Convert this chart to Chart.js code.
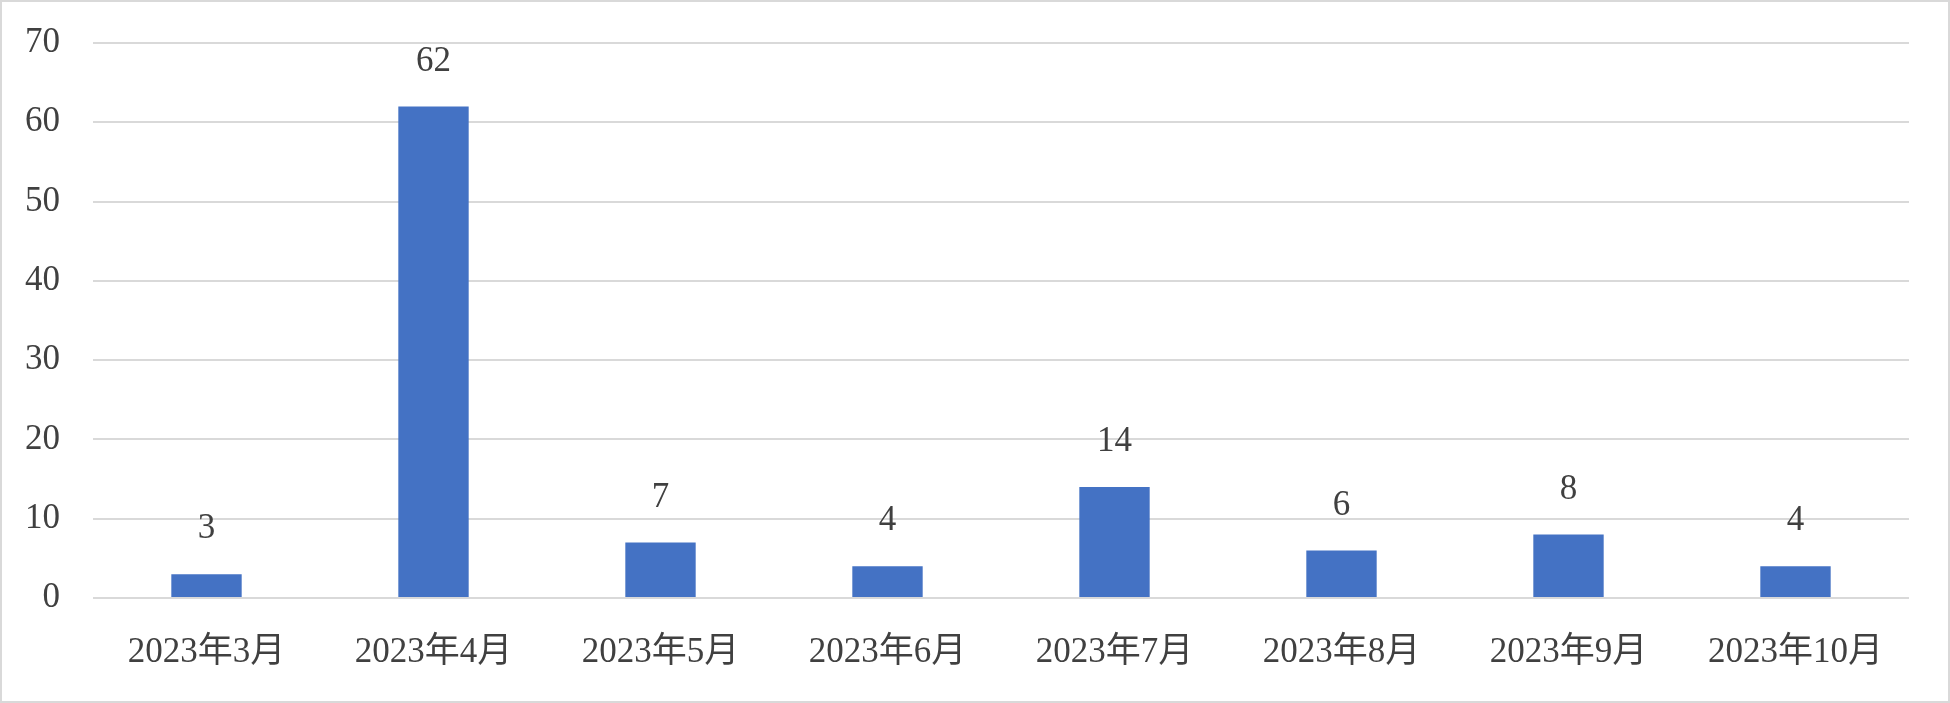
<!DOCTYPE html>
<html>
<head>
<meta charset="utf-8">
<script src="https://cdn.jsdelivr.net/npm/chart.js@4"></script>
<style>
  html, body { margin: 0; padding: 0; background: #ffffff; }
  #wrap { width: 1950px; height: 703px; box-sizing: border-box; border: 2px solid #d9d9d9; position: relative; }
  #wrap canvas { position: absolute; left: -2px; top: -2px; }
</style>
</head>
<body>
<div id="wrap"><canvas id="c" width="1950" height="703"></canvas></div>
<script>
const categories = ["2023年3月", "2023年4月", "2023年5月", "2023年6月", "2023年7月", "2023年8月", "2023年9月", "2023年10月"];
const seriesValues = [3, 62, 7, 4, 14, 6, 8, 4];
const yTickMin = 0;
const yTickMax = 70;
const yTickStep = 10;

const FONT = '"Liberation Serif", "Noto Sans CJK JP", serif';
const TEXT = '#404040';

const valueLabels = {
  id: 'valueLabels',
  afterDatasetsDraw(chart) {
    const ctx = chart.ctx;
    const meta = chart.getDatasetMeta(0);
    ctx.save();
    ctx.font = '35px ' + FONT;
    ctx.fillStyle = TEXT;
    ctx.textAlign = 'center';
    ctx.textBaseline = 'middle';
    meta.data.forEach((bar, i) => {
      ctx.fillText(String(chart.data.datasets[0].data[i]), bar.x, bar.y - 45);
    });
    ctx.restore();
  }
};

new Chart(document.getElementById('c'), {
  type: 'bar',
  data: {
    labels: categories,
    datasets: [{
      data: seriesValues,
      backgroundColor: '#4472C4',
      borderWidth: 0,
      categoryPercentage: 1,
      barPercentage: 0.31
    }]
  },
  options: {
    responsive: false,
    animation: false,
    devicePixelRatio: 1,
    layout: { padding: { left: 0, right: 41, top: 43, bottom: 0 } },
    plugins: { legend: { display: false }, tooltip: { enabled: false } },
    scales: {
      x: {
        grid: { display: false },
        border: { display: false },
        ticks: { color: TEXT, font: { family: FONT, size: 35 }, padding: 26, maxRotation: 0, autoSkip: false },
        afterFit(scale) { scale.height = 105; }
      },
      y: {
        min: yTickMin,
        max: yTickMax,
        ticks: { stepSize: yTickStep, color: TEXT, font: { family: FONT, size: 35 }, padding: 33 },
        grid: { color: '#d9d9d9', lineWidth: 2, drawTicks: false },
        border: { display: false },
        afterFit(scale) { scale.width = 93; scale.paddingTop = 0; }
      }
    }
  },
  plugins: [valueLabels]
});
</script>
</body>
</html>
